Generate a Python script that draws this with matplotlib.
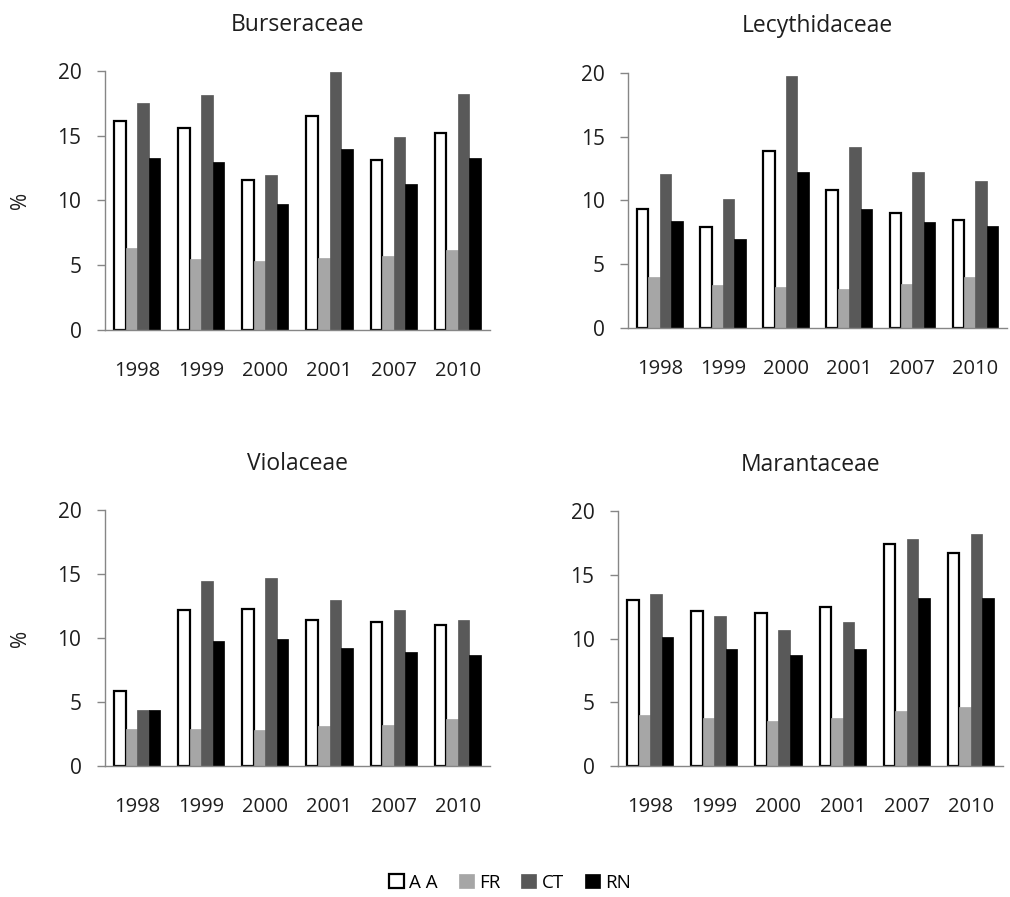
import matplotlib.pyplot as plt
import numpy as np

plt.rcParams['font.family'] = ['Open Sans', 'DejaVu Sans']

years = ["1998", "1999", "2000", "2001", "2007", "2010"]
series_names = ["A A", "FR", "CT", "RN"]

# Werte je Familie: AA, FR, CT, RN (in %)
burseraceae_aa = [16.1, 15.6, 11.6, 16.5, 13.1, 15.2]
burseraceae_fr = [6.3, 5.5, 5.3, 5.6, 5.7, 6.2]
burseraceae_ct = [17.5, 18.1, 12.0, 19.9, 14.9, 18.2]
burseraceae_rn = [13.3, 13.0, 9.7, 14.0, 11.3, 13.3]

lecythidaceae_aa = [9.3, 7.9, 13.9, 10.8, 9.0, 8.5]
lecythidaceae_fr = [4.0, 3.4, 3.2, 3.1, 3.5, 4.0]
lecythidaceae_ct = [12.1, 10.1, 19.7, 14.2, 12.2, 11.5]
lecythidaceae_rn = [8.4, 7.0, 12.2, 9.3, 8.3, 8.0]

violaceae_aa = [5.9, 12.2, 12.3, 11.4, 11.3, 11.0]
violaceae_fr = [2.9, 2.9, 2.8, 3.1, 3.2, 3.7]
violaceae_ct = [4.4, 14.5, 14.7, 13.0, 12.2, 11.4]
violaceae_rn = [4.4, 9.8, 9.9, 9.2, 8.9, 8.7]

marantaceae_aa = [13.0, 12.2, 12.0, 12.5, 17.4, 16.7]
marantaceae_fr = [4.0, 3.8, 3.5, 3.8, 4.3, 4.6]
marantaceae_ct = [13.5, 11.8, 10.7, 11.3, 17.8, 18.2]
marantaceae_rn = [10.1, 9.2, 8.7, 9.2, 13.2, 13.2]

panels = [
    ("Burseraceae", [burseraceae_aa, burseraceae_fr, burseraceae_ct, burseraceae_rn],
     [0.104, 0.632, 0.381, 0.289], True),
    ("Lecythidaceae", [lecythidaceae_aa, lecythidaceae_fr, lecythidaceae_ct, lecythidaceae_rn],
     [0.622, 0.634, 0.375, 0.285], False),
    ("Violaceae", [violaceae_aa, violaceae_fr, violaceae_ct, violaceae_rn],
     [0.104, 0.146, 0.381, 0.285], True),
    ("Marantaceae", [marantaceae_aa, marantaceae_fr, marantaceae_ct, marantaceae_rn],
     [0.612, 0.146, 0.381, 0.284], False),
]

face_colors = ["white", "#a6a6a6", "#595959", "black"]
edge_colors = ["black", "#a6a6a6", "#595959", "black"]
axis_color = "#868686"
text_color = "#1e1e1e"

fig = plt.figure(figsize=(10.10, 8.97), dpi=100)

bar_w = 0.18
x = np.arange(len(years))
handles = []

for title, values, rect, show_ylabel in panels:
    ax = fig.add_axes(rect)
    for i, vals in enumerate(values):
        offset = (i - 1.5) * bar_w
        bars = ax.bar(x + offset, vals, width=bar_w,
                      color=face_colors[i], edgecolor=edge_colors[i],
                      linewidth=1.6 if i == 0 else 0.5, label=series_names[i])
        if title == "Burseraceae":
            handles.append(bars)

    ax.set_xlim(-0.5, len(years) - 0.5)
    ax.set_ylim(0, 20)
    ax.set_yticks([0, 5, 10, 15, 20])
    ax.set_xticks(x)
    ax.set_xticklabels(years)

    for side in ["top", "right"]:
        ax.spines[side].set_visible(False)
    for side in ["left", "bottom"]:
        ax.spines[side].set_color(axis_color)
        ax.spines[side].set_linewidth(1.0)

    ax.tick_params(axis="y", length=6, width=1.0, color=axis_color,
                   pad=11, labelsize=15, labelcolor=text_color)
    ax.tick_params(axis="x", length=0, pad=22, labelsize=14.5, labelcolor=text_color)

    ax.set_title(title, fontsize=16.5, pad=29, color=text_color)
    if show_ylabel:
        ax.set_ylabel("%", fontsize=15, labelpad=19, color=text_color)

fig.legend(handles, series_names, loc="center", bbox_to_anchor=(0.505, 0.016),
           ncol=4, frameon=False, fontsize=13.5, handlelength=0.8, handleheight=0.8,
           handletextpad=0.3, columnspacing=1.1)

fig.savefig("out.png", dpi=100)
plt.close(fig)
